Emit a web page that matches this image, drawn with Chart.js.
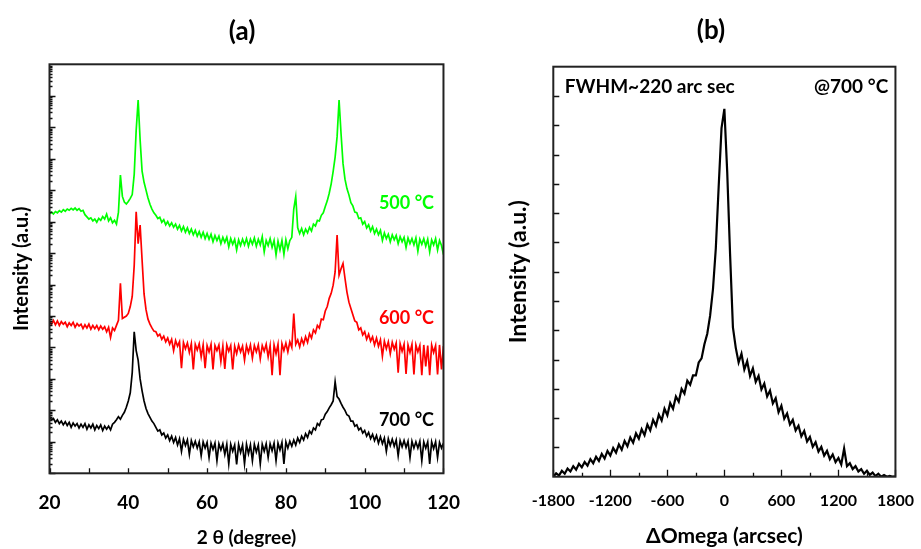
<!DOCTYPE html>
<html>
<head>
<meta charset="utf-8">
<script src="https://cdn.jsdelivr.net/npm/chart.js@4.4.1/dist/chart.umd.min.js"></script>
<style>
  html, body { margin: 0; padding: 0; background: #fff; }
  #wrap { position: relative; width: 921px; height: 549px; }
  canvas { position: absolute; top: 0; }
  #xrdCanvas { left: 0; }
  #rockCanvas { left: 470px; }
</style>
</head>
<body>
<div id="wrap">
  <canvas id="xrdCanvas" width="470" height="549"></canvas>
  <canvas id="rockCanvas" width="451" height="549"></canvas>
</div>
<script>
// (a) XRD scans, intensity given as log10 (decades, offset per curve)
const twoTheta = [
  20, 20.5, 21, 21.5, 22, 22.5, 23, 23.5, 24, 24.5,
  25, 25.5, 26, 26.5, 27, 27.5, 28, 28.5, 29, 29.5,
  30, 30.5, 31, 31.5, 32, 32.5, 33, 33.5, 34, 34.5,
  35, 35.5, 36, 36.5, 37, 37.5, 38, 38.5, 39, 39.5,
  40, 40.5, 41, 41.5, 42, 42.5, 43, 43.5, 44, 44.5,
  45, 45.5, 46, 46.5, 47, 47.5, 48, 48.5, 49, 49.5,
  50, 50.5, 51, 51.5, 52, 52.5, 53, 53.5, 54, 54.5,
  55, 55.5, 56, 56.5, 57, 57.5, 58, 58.5, 59, 59.5,
  60, 60.5, 61, 61.5, 62, 62.5, 63, 63.5, 64, 64.5,
  65, 65.5, 66, 66.5, 67, 67.5, 68, 68.5, 69, 69.5,
  70, 70.5, 71, 71.5, 72, 72.5, 73, 73.5, 74, 74.5,
  75, 75.5, 76, 76.5, 77, 77.5, 78, 78.5, 79, 79.5,
  80, 80.5, 81, 81.5, 82, 82.5, 83, 83.5, 84, 84.5,
  85, 85.5, 86, 86.5, 87, 87.5, 88, 88.5, 89, 89.5,
  90, 90.5, 91, 91.5, 92, 92.5, 93, 93.5, 94, 94.5,
  95, 95.5, 96, 96.5, 97, 97.5, 98, 98.5, 99, 99.5,
  100, 100.5, 101, 101.5, 102, 102.5, 103, 103.5, 104, 104.5,
  105, 105.5, 106, 106.5, 107, 107.5, 108, 108.5, 109, 109.5,
  110, 110.5, 111, 111.5, 112, 112.5, 113, 113.5, 114, 114.5,
  115, 115.5, 116, 116.5, 117, 117.5, 118, 118.5, 119, 119.5,
  120
];

const log500 = [
  8.26, 8.30, 8.24, 8.32, 8.28, 8.35, 8.30, 8.38, 8.33, 8.40,
  8.36, 8.42, 8.37, 8.43, 8.36, 8.41, 8.33, 8.36, 8.22, 8.15,
  8.08, 8.12, 8.02, 8.08, 7.98, 8.10, 8.04, 8.16, 8.08, 8.24,
  8.02, 8.12, 7.96, 8.04, 7.92, 8.30, 9.48, 8.80, 8.62, 8.56,
  8.64, 8.74, 8.86, 9.50, 10.90, 11.86, 10.60, 9.60, 9.25, 9.00,
  8.75, 8.55, 8.40, 8.28, 8.20, 8.10, 8.14, 7.98, 8.06, 7.90,
  8.00, 7.86, 7.96, 7.82, 7.92, 7.76, 7.88, 7.70, 7.84, 7.66,
  7.80, 7.62, 7.76, 7.58, 7.72, 7.54, 7.68, 7.50, 7.66, 7.46,
  7.62, 7.44, 7.60, 7.36, 7.56, 7.40, 7.54, 7.30, 7.50, 7.34,
  7.50, 7.20, 7.46, 7.28, 7.44, 7.10, 7.42, 7.24, 7.44, 7.26,
  7.46, 7.22, 7.44, 7.28, 7.48, 7.22, 7.44, 7.26, 7.52, 7.04,
  7.40, 7.24, 7.46, 7.18, 7.40, 6.94, 7.38, 7.10, 7.40, 6.96,
  7.42, 7.14, 7.40, 7.50, 8.40, 8.79, 7.80, 7.62, 7.78, 7.58,
  7.76, 7.64, 7.82, 7.70, 7.92, 7.86, 8.04, 8.02, 8.20, 8.28,
  8.48, 8.66, 8.90, 9.20, 9.60, 10.05, 10.70, 11.86, 10.80, 9.85,
  9.35, 9.05, 8.85, 8.60, 8.50, 8.30, 8.28, 8.10, 8.12, 7.92,
  8.00, 7.80, 7.90, 7.70, 7.84, 7.62, 7.76, 7.58, 7.72, 7.40,
  7.64, 7.46, 7.60, 7.36, 7.58, 7.42, 7.56, 7.30, 7.52, 7.36,
  7.50, 7.18, 7.48, 7.30, 7.46, 7.26, 7.48, 7.06, 7.44, 7.28,
  7.46, 7.22, 7.44, 7.04, 7.42, 7.26, 7.46, 7.10, 7.40, 7.24,
  6.95
];

const log600 = [
  4.82, 4.74, 4.86, 4.72, 4.84, 4.70, 4.82, 4.74, 4.80, 4.66,
  4.78, 4.70, 4.80, 4.64, 4.76, 4.68, 4.74, 4.60, 4.72, 4.62,
  4.74, 4.58, 4.70, 4.60, 4.70, 4.56, 4.68, 4.58, 4.66, 4.50,
  4.64, 4.32, 4.62, 4.54, 4.70, 4.86, 6.04, 4.92, 4.96, 5.00,
  5.08, 5.30, 5.62, 6.60, 8.31, 7.30, 7.89, 6.78, 5.70, 5.20,
  4.90, 4.74, 4.62, 4.52, 4.50, 4.36, 4.42, 4.26, 4.36, 4.18,
  4.30, 4.10, 4.26, 3.90, 4.22, 4.04, 4.18, 3.34, 4.16, 3.96,
  4.14, 3.84, 4.12, 3.30, 4.10, 3.92, 4.12, 3.70, 4.08, 3.34,
  4.06, 3.86, 4.10, 3.30, 4.06, 3.90, 4.08, 3.56, 4.04, 3.32,
  4.08, 3.88, 4.06, 3.30, 4.04, 3.80, 4.08, 3.86, 4.04, 3.60,
  4.06, 3.84, 4.08, 3.66, 4.06, 3.86, 4.08, 3.64, 4.06, 3.88,
  4.10, 3.70, 4.06, 3.12, 4.08, 3.80, 4.10, 3.12, 4.12, 3.90,
  4.14, 3.86, 4.18, 4.00, 5.08, 4.10, 4.24, 4.02, 4.28, 4.10,
  4.34, 4.16, 4.44, 4.30, 4.56, 4.46, 4.70, 4.62, 4.90, 4.88,
  5.16, 5.30, 5.56, 5.72, 5.98, 6.40, 7.57, 6.30, 6.50, 6.67,
  6.20, 5.76, 5.44, 5.24, 5.04, 4.84, 4.80, 4.56, 4.62, 4.40,
  4.50, 4.26, 4.42, 4.20, 4.34, 4.08, 4.30, 4.04, 4.24, 3.72,
  4.20, 3.96, 4.18, 3.80, 4.16, 3.94, 4.14, 3.20, 4.12, 3.88,
  4.10, 3.16, 4.08, 3.84, 4.10, 3.14, 4.08, 3.86, 4.06, 3.12,
  4.08, 3.40, 4.06, 3.12, 4.08, 3.84, 4.06, 3.14, 4.08, 3.30,
  4.04
];

const log700 = [
  1.80, 1.70, 1.74, 1.62, 1.70, 1.58, 1.66, 1.54, 1.64, 1.52,
  1.62, 1.46, 1.60, 1.50, 1.58, 1.44, 1.56, 1.46, 1.58, 1.40,
  1.54, 1.44, 1.56, 1.38, 1.52, 1.42, 1.54, 1.36, 1.50, 1.40,
  1.50, 1.38, 1.56, 1.62, 1.70, 1.80, 1.72, 1.84, 1.94, 2.10,
  2.30, 2.56, 3.20, 4.50, 3.90, 3.60, 3.00, 2.62, 2.30, 2.06,
  1.90, 1.78, 1.66, 1.58, 1.46, 1.34, 1.38, 1.22, 1.28, 1.12,
  1.22, 1.04, 1.18, 0.98, 1.14, 0.90, 1.10, 0.70, 1.08, 0.88,
  1.06, 0.60, 1.04, 0.84, 1.02, 0.80, 1.00, 0.56, 1.00, 0.80,
  0.98, 0.50, 0.96, 0.76, 0.96, 0.40, 0.94, 0.74, 0.94, 0.60,
  0.92, 0.30, 0.92, 0.70, 0.90, 0.28, 0.92, 0.66, 0.90, 0.30,
  0.92, 0.62, 0.90, 0.40, 0.92, 0.68, 0.90, 0.30, 0.92, 0.70,
  0.94, 0.50, 0.94, 0.72, 0.96, 0.40, 0.96, 0.74, 0.98, 0.30,
  1.00, 0.80, 1.02, 0.86, 1.06, 0.90, 1.12, 0.98, 1.18, 1.06,
  1.26, 1.14, 1.34, 1.26, 1.44, 1.38, 1.58, 1.52, 1.70, 1.72,
  1.88, 1.96, 2.08, 2.18, 2.30, 2.91, 2.44, 2.36, 2.22, 2.10,
  2.00, 1.86, 1.82, 1.66, 1.66, 1.50, 1.54, 1.38, 1.44, 1.28,
  1.36, 1.18, 1.30, 1.10, 1.24, 1.04, 1.20, 0.96, 1.16, 0.94,
  1.12, 0.70, 1.10, 0.88, 1.08, 0.86, 1.06, 0.56, 1.04, 0.84,
  1.04, 0.82, 1.02, 0.50, 1.02, 0.80, 1.00, 0.80, 1.02, 0.40,
  1.00, 0.80, 1.00, 0.30, 1.00, 0.78, 1.00, 0.50, 0.98, 0.80,
  0.96
];

const xrdLabels = ['500 °C', '600 °C', '700 °C'];
const xrdColors = ['#00ff00', '#ff0000', '#000000'];

// (b) rocking curve at 700 °C
const omegaArcsec = [
  -1800, -1770, -1740, -1710, -1680, -1650, -1620, -1590, -1560, -1530,
  -1500, -1470, -1440, -1410, -1380, -1350, -1320, -1290, -1260, -1230,
  -1200, -1170, -1140, -1110, -1080, -1050, -1020, -990, -960, -930,
  -900, -870, -840, -810, -780, -750, -720, -690, -660, -630,
  -600, -570, -540, -510, -480, -450, -420, -390, -360, -330,
  -300, -270, -240, -210, -180, -150, -120, -90, -60, -30,
  0, 30, 60, 90, 120, 150, 180, 210, 240, 270,
  300, 330, 360, 390, 420, 450, 480, 510, 540, 570,
  600, 630, 660, 690, 720, 750, 780, 810, 840, 870,
  900, 930, 960, 990, 1020, 1050, 1080, 1110, 1140, 1170,
  1200, 1230, 1260, 1290, 1320, 1350, 1380, 1410, 1440, 1470,
  1500, 1530, 1560, 1590, 1620, 1650, 1680, 1710, 1740, 1770,
  1800
];

const rockIntensity = [
  0.00, 0.12, 0.04, 0.20, 0.10, 0.28, 0.18, 0.36, 0.24, 0.44,
  0.32, 0.50, 0.38, 0.60, 0.46, 0.68, 0.54, 0.78, 0.62, 0.88,
  0.72, 0.98, 0.82, 1.10, 0.92, 1.22, 1.04, 1.34, 1.16, 1.48,
  1.30, 1.62, 1.42, 1.78, 1.58, 1.94, 1.74, 2.12, 1.92, 2.32,
  2.10, 2.52, 2.32, 2.74, 2.56, 3.00, 2.84, 3.28, 3.14, 3.46,
  3.46, 3.90, 4.04, 4.52, 4.88, 5.50, 6.40, 7.80, 9.90, 11.90,
  12.56, 10.40, 7.60, 5.10, 4.40, 3.90, 4.20, 3.66, 3.94, 3.44,
  3.70, 3.24, 3.44, 2.98, 3.18, 2.74, 2.94, 2.50, 2.68, 2.20,
  2.42, 1.98, 2.16, 1.78, 1.94, 1.58, 1.74, 1.38, 1.56, 1.20,
  1.36, 1.02, 1.18, 0.86, 1.02, 0.72, 0.88, 0.60, 0.76, 0.50,
  0.64, 0.42, 0.96, 0.36, 0.46, 0.26, 0.36, 0.18, 0.26, 0.10,
  0.20, 0.06, 0.14, 0.02, 0.10, 0.00, 0.06, 0.00, 0.03, 0.00,
  0.00
];

Chart.defaults.font.family = 'Lato';
Chart.defaults.color = '#000';

// inward tick marks + closed frame
const frameTicks = {
  id: 'frameTicks',
  afterDatasetsDraw(chart, args, opts) {
    const {ctx, chartArea: area, scales} = chart;
    ctx.save();
    ctx.strokeStyle = '#111';
    ctx.lineWidth = 1.3;
    ctx.beginPath();
    opts.xTicks.forEach(t => {
      const px = Math.round(scales.x.getPixelForValue(t.value)) + 0.5;
      ctx.moveTo(px, area.bottom);
      ctx.lineTo(px, area.bottom - t.len);
    });
    opts.yTicks.forEach(t => {
      const py = Math.round(scales.y.getPixelForValue(t.value)) + 0.5;
      ctx.moveTo(area.left, py);
      ctx.lineTo(area.left + t.len, py);
    });
    ctx.stroke();
    ctx.lineWidth = 2;
    ctx.strokeStyle = '#222';
    ctx.strokeRect(area.left, area.top, area.width, area.height);
    ctx.restore();
  }
};

// free text: px/py in canvas pixels, or x/y in data units
const textNotes = {
  id: 'textNotes',
  afterDraw(chart, args, opts) {
    const {ctx, scales} = chart;
    ctx.save();
    ctx.textBaseline = 'middle';
    opts.items.forEach(n => {
      const x = n.px !== undefined ? n.px : scales.x.getPixelForValue(n.x);
      const y = n.py !== undefined ? n.py : scales.y.getPixelForValue(n.y);
      ctx.font = n.font;
      ctx.fillStyle = n.color || '#000';
      ctx.textAlign = n.align || 'center';
      ctx.fillText(n.text, x, y);
    });
    ctx.restore();
  }
};

const xrdXTicks = [];
for (let v = 20; v <= 120; v += 10) xrdXTicks.push({value: v, len: 5});
const xrdYTicks = [];
for (let n = 0; n < 13; n++) {
  xrdYTicks.push({value: n, len: 6});
  for (let k = 2; k <= 9; k++) xrdYTicks.push({value: n + Math.log10(k), len: 3});
}

const rockXTicks = [];
for (let v = -1800; v <= 1800; v += 300) rockXTicks.push({value: v, len: v % 600 === 0 ? 7 : 4});
const rockYTicks = [];
for (let v = 1; v <= 13; v++) rockYTicks.push({value: v, len: 6});

const pts = (xs, ys) => xs.map((x, i) => ({x: x, y: ys[i]}));

const ctxXrd = document.getElementById('xrdCanvas').getContext('2d');
const xrdChart = new Chart(ctxXrd, {
  type: 'line',
  data: {
    datasets: [log500, log600, log700].map((ys, i) => ({
      label: xrdLabels[i],
      data: pts(twoTheta, ys),
      borderColor: xrdColors[i],
      borderWidth: 1.7,
      pointRadius: 0,
      tension: 0
    }))
  },
  options: {
    responsive: false,
    animation: false,
    events: [],
    layout: { padding: { top: 64.3, left: 0, right: 18.3, bottom: 0 } },
    plugins: {
      legend: { display: false },
      tooltip: { enabled: false },
      frameTicks: { xTicks: xrdXTicks, yTicks: xrdYTicks },
      textNotes: {
        items: [
          { text: '(a)', px: 242, py: 32, font: 'bold 26px Lato' },
          { text: xrdLabels[0], x: 117.6, y: 8.59, align: 'right', color: xrdColors[0], font: 'bold 18px Lato' },
          { text: xrdLabels[1], x: 117.6, y: 4.92, align: 'right', color: xrdColors[1], font: 'bold 18px Lato' },
          { text: xrdLabels[2], x: 117.6, y: 1.69, align: 'right', color: xrdColors[2], font: 'bold 18px Lato' }
        ]
      }
    },
    scales: {
      x: {
        type: 'linear', min: 20, max: 120,
        grid: { display: false }, border: { display: false },
        ticks: { stepSize: 20, maxRotation: 0, padding: 10, font: { size: 19, weight: 'bold' } },
        title: { display: true, text: '2 θ (degree)', font: { size: 19, weight: 'bold' }, padding: { top: 0, bottom: 0 } },
        afterFit(s) { s.height = 75.7; }
      },
      y: {
        type: 'linear', min: 0, max: 13,
        grid: { display: false }, border: { display: false },
        ticks: { display: false },
        title: { display: true, text: 'Intensity (a.u.)', font: { size: 20, weight: 'bold' }, padding: { top: 10, bottom: 0 } },
        afterFit(s) { s.width = 49.5; }
      }
    }
  },
  plugins: [frameTicks, textNotes]
});

const ctxRock = document.getElementById('rockCanvas').getContext('2d');
const rockChart = new Chart(ctxRock, {
  type: 'line',
  data: {
    datasets: [{
      label: '@700 °C',
      data: pts(omegaArcsec, rockIntensity),
      borderColor: '#000',
      borderWidth: 2.2,
      pointRadius: 0,
      tension: 0
    }]
  },
  options: {
    responsive: false,
    animation: false,
    events: [],
    layout: { padding: { top: 66.7, left: 0, right: 21, bottom: 0 } },
    plugins: {
      legend: { display: false },
      tooltip: { enabled: false },
      frameTicks: { xTicks: rockXTicks, yTicks: rockYTicks },
      textNotes: {
        items: [
          { text: '(b)', px: 241, py: 31, font: 'bold 26px Lato' },
          { text: 'FWHM~220 arc sec', x: -1679, y: 13.31, align: 'left', font: 'bold 19px Lato' },
          { text: '@700 °C', x: 1724, y: 13.31, align: 'right', font: 'bold 19px Lato' }
        ]
      }
    },
    scales: {
      x: {
        type: 'linear', min: -1800, max: 1800,
        grid: { display: false }, border: { display: false },
        ticks: { stepSize: 600, maxRotation: 0, padding: 7, font: { size: 16, weight: 'bold' }, callback: v => String(v) },
        title: { display: true, text: 'ΔOmega (arcsec)', font: { size: 21, weight: 'bold' }, padding: { top: 0, bottom: 0 } },
        afterFit(s) { s.height = 72.3; }
      },
      y: {
        type: 'linear', min: 0, max: 14,
        grid: { display: false }, border: { display: false },
        ticks: { display: false },
        title: { display: true, text: 'Intensity (a.u.)', font: { size: 23, weight: 'bold' }, padding: { top: 35, bottom: 0 } },
        afterFit(s) { s.width = 83.3; }
      }
    }
  },
  plugins: [frameTicks, textNotes]
});
</script>
</body>
</html>
